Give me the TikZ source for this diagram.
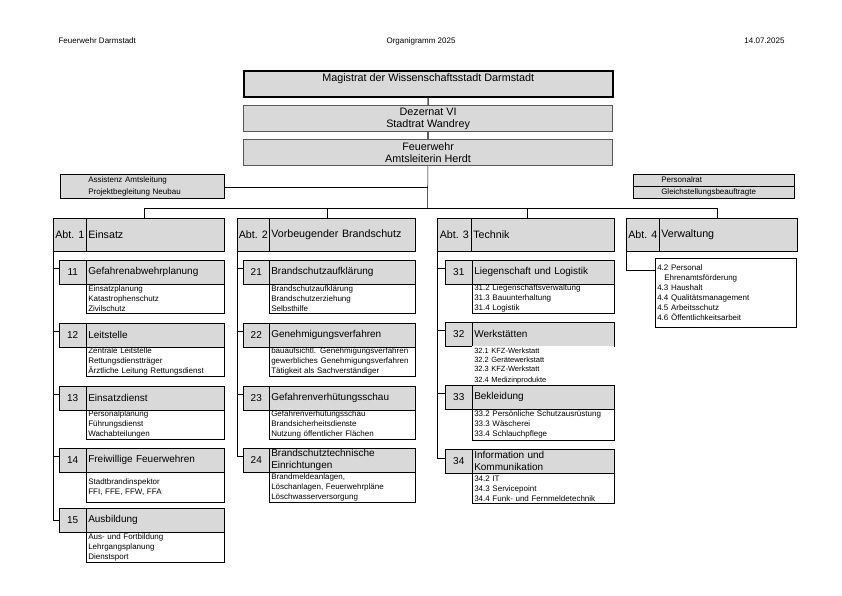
\documentclass[tikz,border=0pt]{standalone}
\usepackage{fontspec}
\setmainfont{Liberation Sans}
\definecolor{boxgray}{HTML}{D9D9D9}
\definecolor{framegray}{HTML}{595959}

\begin{document}
\begin{tikzpicture}[
    x=1pt, y=-1pt,
    topbox/.style={
        rectangle,
        draw=framegray,
        line width=1.2pt,
        fill=boxgray,
        anchor=north west,
        minimum width=369pt,
        minimum height=26pt,
        inner sep=0pt,
        font=\fontsize{10.8}{11.7}\selectfont,
        align=center
    },
    cell/.style={
        rectangle,
        draw=black,
        line width=0.5pt,
        fill=boxgray,
        anchor=north west,
        inner sep=0pt,
        minimum height=24pt,
        font=\fontsize{10}{11.7}\selectfont
    },
    numcell/.style={cell, align=center},
    namecell/.style={cell, align=left, inner xsep=2pt},
    abtcell/.style={minimum height=33pt, font=\fontsize{10.7}{12}\selectfont},
    detail/.style={
        rectangle,
        draw=black,
        line width=0.5pt,
        fill=white,
        anchor=north west,
        inner xsep=2pt,
        inner ysep=0pt,
        align=left,
        font=\fontsize{8}{10}\selectfont
    },
    sidebox/.style={
        rectangle,
        draw=black,
        line width=0.5pt,
        fill=boxgray,
        anchor=north west,
        inner sep=0pt,
        align=left,
        font=\fontsize{8}{11.7}\selectfont
    },
    link/.style={draw=black, line width=0.5pt}
]
\useasboundingbox (0,0) rectangle (842,595);

% page header
\node[font=\fontsize{8}{10}\selectfont, anchor=west] (kopf) at (55,41) {Feuerwehr Darmstadt};
\node[font=\fontsize{8}{10}\selectfont] (titel) at (421,41) {Organigramm 2025};
\node[font=\fontsize{8}{10}\selectfont, anchor=east] (datum) at (788,41) {14.07.2025};

% leitung
\node[topbox, draw=black, line width=1.5pt] (magistrat) at (243,70) {Magistrat der Wissenschaftsstadt Darmstadt\\\mbox{}};
\node[topbox] (dezernat) at (243,105) {Dezernat VI\\Stadtrat Wandrey};
\node[topbox] (feuerwehr) at (243,139) {Feuerwehr\\Amtsleiterin Herdt};

\draw[framegray, line width=1.5pt] (magistrat) -- (dezernat);
\draw[framegray, line width=1.5pt] (dezernat) -- (feuerwehr);

% stabsstellen
\node[sidebox, minimum height=24pt, text width=164pt] (assistenz) at (60,174) {\hspace*{28pt}Assistenz Amtsleitung\\\hspace*{28pt}Projektbegleitung Neubau};
\node[sidebox, minimum height=11.5pt, text width=161pt] (personalrat) at (633,174) {\hspace*{28pt}Personalrat};
\node[sidebox, minimum height=12.5pt, text width=161pt] (gleichst) at (633,185.5) {\hspace*{28pt}Gleichstellungsbeauftragte};

\coordinate (bus) at (427.5,208);
\coordinate (d1) at (144,208);
\coordinate (d2) at (327,208);
\coordinate (d3) at (527,208);
\coordinate (d4) at (717,208);

\draw[link] (feuerwehr) -- (bus);
\draw[link] ([yshift=-1pt]assistenz.east) -- ([yshift=-1pt]assistenz.east -| bus);
\draw[link] (d1) -- (d4);

% abteilungen
\node[numcell, abtcell, minimum width=33pt] (einsatznum) at (53,218) {Abt. 1};
\node[namecell, abtcell, text width=134pt] (einsatz) at (86,218) {Einsatz};
\node[numcell, abtcell, minimum width=32pt] (vbnum) at (237,218) {Abt. 2};
\node[namecell, abtcell, text width=142pt] (vb) at (269,218) {Vorbeugender Brandschutz};
\node[numcell, abtcell, minimum width=34pt] (techniknum) at (437,218) {Abt. 3};
\node[namecell, abtcell, text width=139pt] (technik) at (471,218) {Technik};
\node[numcell, abtcell, minimum width=33pt] (verwaltungnum) at (626,218) {Abt. 4};
\node[namecell, abtcell, text width=134pt] (verwaltung) at (659,218) {Verwaltung};

\draw[link] (d1) -- (d1 |- einsatz.north);
\draw[link] (d2) -- (d2 |- vb.north);
\draw[link] (d3) -- (d3 |- technik.north);
\draw[link] (d4) -- (d4 |- verwaltung.north);

% Abt. 1
\node[numcell, minimum width=27pt] (s11num) at (59,260) {11};
\node[namecell, text width=134pt] (s11) at (86,260) {Gefahrenabwehrplanung};
\node[detail, text width=134pt, minimum height=29pt] (s11txt) at (86,284) {Einsatzplanung\\Katastrophenschutz\\Zivilschutz};

\node[numcell, minimum width=27pt] (s12num) at (59,323) {12};
\node[namecell, text width=134pt] (s12) at (86,323) {Leitstelle};
\node[detail, text width=134pt, minimum height=29pt] (s12txt) at (86,347) {Zentrale Leitstelle\\Rettungsdienstträger\\Ärztliche Leitung Rettungsdienst};

\node[numcell, minimum width=27pt] (s13num) at (59,386) {13};
\node[namecell, text width=134pt] (s13) at (86,386) {Einsatzdienst};
\node[detail, text width=134pt, minimum height=29pt] (s13txt) at (86,410) {Personalplanung\\Führungsdienst\\Wachabteilungen};

\node[numcell, minimum width=27pt] (s14num) at (59,448) {14};
\node[namecell, text width=134pt] (s14) at (86,448) {Freiwillige Feuerwehren};
\node[detail, text width=134pt, minimum height=30pt] (s14txt) at (86,472) {Stadtbrandinspektor\\FFI, FFE, FFW, FFA};

\node[numcell, minimum width=27pt] (s15num) at (59,508) {15};
\node[namecell, text width=134pt] (s15) at (86,508) {Ausbildung};
\node[detail, text width=134pt, minimum height=30pt] (s15txt) at (86,532) {Aus- und Fortbildung\\Lehrgangsplanung\\Dienstsport};

\draw[link] (einsatznum.south west) |- ([yshift=-8pt]s11num.north west);
\draw[link] (einsatznum.south west) |- ([yshift=-8pt]s12num.north west);
\draw[link] (einsatznum.south west) |- ([yshift=-8pt]s13num.north west);
\draw[link] (einsatznum.south west) |- ([yshift=-8pt]s14num.north west);
\draw[link] (einsatznum.south west) |- ([yshift=-12pt]s15num.north west);

% Abt. 2
\node[numcell, minimum width=26pt] (s21num) at (243,260) {21};
\node[namecell, text width=142pt] (s21) at (269,260) {Brandschutzaufklärung};
\node[detail, text width=142pt, minimum height=29pt] (s21txt) at (269,284) {Brandschutzaufklärung\\Brandschutzerziehung\\Selbsthilfe};

\node[numcell, minimum width=26pt] (s22num) at (243,323) {22};
\node[namecell, text width=142pt] (s22) at (269,323) {Genehmigungsverfahren};
\node[detail, text width=142pt, minimum height=29pt] (s22txt) at (269,347) {bauaufsichtl. Genehmigungsverfahren\\gewerbliches Genehmigungsverfahren\\Tätigkeit als Sachverständiger};

\node[numcell, minimum width=26pt] (s23num) at (243,386) {23};
\node[namecell, text width=142pt] (s23) at (269,386) {Gefahrenverhütungsschau};
\node[detail, text width=142pt, minimum height=29pt] (s23txt) at (269,410) {Gefahrenverhütungsschau\\Brandsicherheitsdienste\\Nutzung öffentlicher Flächen};

\node[numcell, minimum width=26pt] (s24num) at (243,448) {24};
\node[namecell, text width=142pt] (s24) at (269,448) {Brandschutztechnische\\Einrichtungen};
\node[detail, text width=142pt, minimum height=30pt] (s24txt) at (269,472) {Brandmeldeanlagen,\\Löschanlagen, Feuerwehrpläne\\Löschwasserversorgung};

\draw[link] (vbnum.south west) |- ([yshift=-8pt]s21num.north west);
\draw[link] (vbnum.south west) |- ([yshift=-8pt]s22num.north west);
\draw[link] (vbnum.south west) |- ([yshift=-8pt]s23num.north west);
\draw[link] (vbnum.south west) |- ([yshift=-8pt]s24num.north west);

% Abt. 3
\node[numcell, minimum width=27pt] (s31num) at (445,260) {31};
\node[namecell, text width=138pt] (s31) at (472,260) {Liegenschaft und Logistik};
\node[detail, text width=138pt, minimum height=29pt] (s31txt) at (472,284) {31.2 Liegenschaftsverwaltung\\31.3 Bauunterhaltung\\31.4 Logistik};

\node[numcell, minimum width=27pt] (s32num) at (445,322) {32};
\node[namecell, text width=138pt] (s32) at (472,322) {Werkstätten};
\node[detail, draw=none, text width=138pt, minimum height=39pt, font=\fontsize{7.5}{9}\selectfont] (s32txt) at (472,346) {32.1 KFZ-Werkstatt\\32.2 Gerätewerkstatt\\32.3 KFZ-Werkstatt\\[2pt]32.4 Medizinprodukte};

\node[numcell, minimum width=27pt] (s33num) at (445,385) {33};
\node[namecell, text width=138pt] (s33) at (472,385) {Bekleidung};
\node[detail, text width=138pt, minimum height=31pt] (s33txt) at (472,409) {33.2 Persönliche Schutzausrüstung\\33.3 Wäscherei\\33.4 Schlauchpflege};

\node[numcell, minimum width=27pt] (s34num) at (445,449) {34};
\node[namecell, text width=138pt] (s34) at (472,449) {Information und\\Kommunikation};
\node[detail, text width=138pt, minimum height=30pt] (s34txt) at (472,473) {34.2 IT\\34.3 Servicepoint\\34.4 Funk- und Fernmeldetechnik};

\draw[link] (techniknum.south west) |- ([yshift=-8pt]s31num.north west);
\draw[link] (techniknum.south west) |- ([yshift=-8pt]s32num.north west);
\draw[link] (techniknum.south west) |- ([yshift=-8pt]s33num.north west);
\draw[link] (techniknum.south west) |- ([yshift=-9pt]s34num.north west);

% Abt. 4
\node[detail, text width=137pt, minimum height=69pt] (s4txt) at (655,258) {4.2 Personal\\\hspace*{7pt}Ehrenamtsförderung\\4.3 Haushalt\\4.4 Qualitätsmanagement\\4.5 Arbeitsschutz\\4.6 Öffentlichkeitsarbeit};

\draw[link] (verwaltungnum.south west) |- ([yshift=-12pt]s4txt.north west);

\end{tikzpicture}
\end{document}
